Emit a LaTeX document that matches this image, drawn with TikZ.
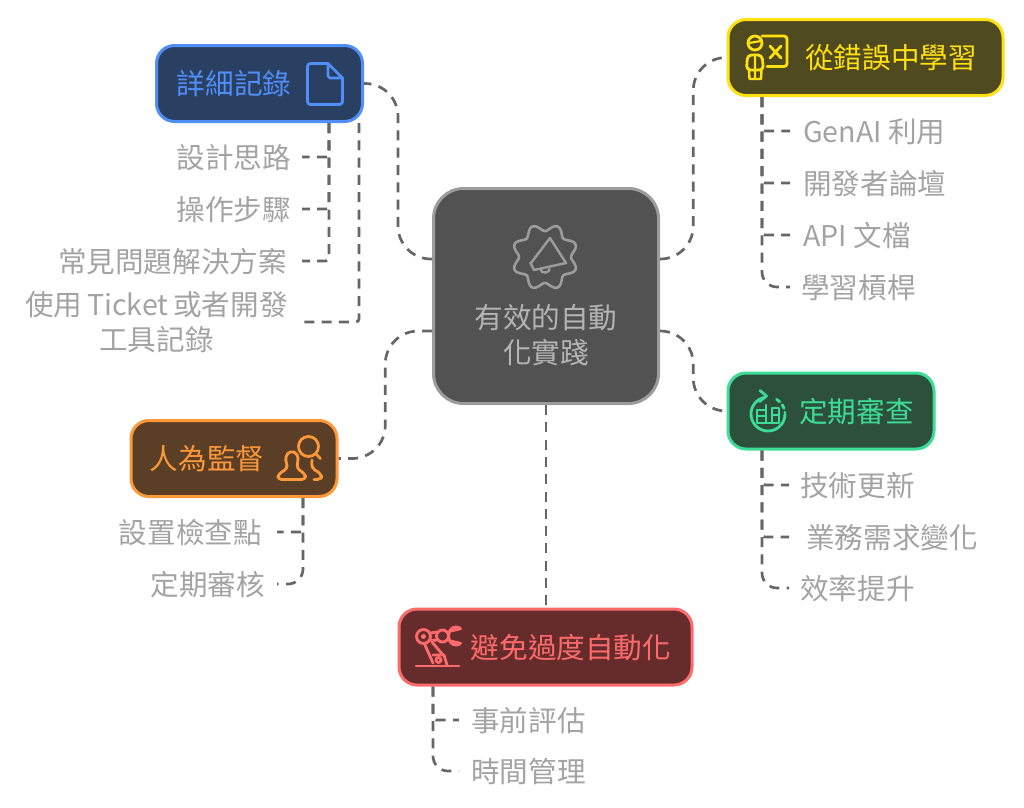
\documentclass[tikz,border=0pt]{standalone}
\usepackage{fontspec}
\setmainfont{Noto Sans CJK TC}
\usetikzlibrary{arrows.meta,positioning,calc}

\definecolor{linkgray}{HTML}{666666}
\definecolor{leafgray}{HTML}{A3A3A3}
\definecolor{hubfill}{HTML}{525252}
\definecolor{hubedge}{HTML}{9C9C9C}
\definecolor{hubtext}{HTML}{B4B4B4}
\definecolor{bluefill}{HTML}{2A4063}
\definecolor{blueedge}{HTML}{4F8FF7}
\definecolor{yellowfill}{HTML}{4F4A20}
\definecolor{yellowedge}{HTML}{FFE011}
\definecolor{greenfill}{HTML}{2C503C}
\definecolor{greenedge}{HTML}{3DDC97}
\definecolor{orangefill}{HTML}{5A3F26}
\definecolor{orangeedge}{HTML}{FF9838}
\definecolor{redfill}{HTML}{662C2C}
\definecolor{rededge}{HTML}{FF6B6B}

\tikzset{
    txtfont/.style={font=\fontsize{28.6}{34.5}\selectfont},
    txt/.style={txtfont, text height=27pt, text depth=5pt},
    topicbox/.style={txt, draw, line width=3pt, rounded corners=18pt, minimum height=76pt, inner sep=0pt},
    leaf/.style={txt, text=leafgray, inner ysep=0pt},
    twolines/.style={txtfont, text=leafgray, inner ysep=0pt, align=center},
    link/.style={linkgray, line width=2.7pt, dash pattern=on 10pt off 7.3pt},
    trunk/.style={link, rounded corners=3pt},
    trunkend/.style={link, rounded corners=15pt},
    hublink/.style={link, rounded corners=33pt},
    icon/.style={line width=2.8pt, line join=round, line cap=round}
}

\begin{document}
\begin{tikzpicture}[x=1pt,y=-1pt]
    \useasboundingbox (0,0) rectangle (1024,807);

    % Centre
    \node[draw=hubedge, fill=hubfill, text=hubtext, line width=3pt, rounded corners=30pt,
        minimum width=225pt, minimum height=215pt, inner sep=0pt, align=center, txtfont] (hub) at (546,296)
        {\rule{0pt}{70pt}\\[-2pt]有效的自動\\化實踐};
    \coordinate (hubwesttop) at ([yshift=37pt]hub.west);
    \coordinate (hubwestlow) at ([yshift=-35pt]hub.west);
    \coordinate (hubeasttop) at ([yshift=37pt]hub.east);
    \coordinate (hubeastlow) at ([yshift=-35pt]hub.east);

    % Topics
    \node[topicbox, draw=blueedge, fill=bluefill, text=blueedge, minimum width=206pt] (detail) at (259.5,83.5) {詳細記錄\hspace*{51pt}};
    \node[topicbox, draw=yellowedge, fill=yellowfill, text=yellowedge, minimum width=275pt] (mistake) at (865.5,57.5) {\hspace*{51pt}從錯誤中學習};
    \node[topicbox, draw=greenedge, fill=greenfill, text=greenedge, minimum width=206pt] (review) at (831,411) {\hspace*{51pt}定期審查};
    \node[topicbox, draw=orangeedge, fill=orangefill, text=orangeedge, minimum width=206pt] (human) at (234,458.5) {人為監督\hspace*{54pt}};
    \node[topicbox, draw=rededge, fill=redfill, text=rededge, minimum width=293pt] (avoid) at (545.5,647) {\hspace*{51pt}避免過度自動化};

    % Leaves of detail
    \node[leaf, anchor=east, inner xsep=11pt] (design) at (302,157) {設計思路};
    \node[leaf, anchor=east, inner xsep=11pt] (steps) at (302,209) {操作步驟};
    \node[leaf, anchor=east, inner xsep=15pt] (faq) at (302,261) {常見問題解決方案};
    \node[twolines, anchor=east, inner xsep=14pt] (ticket) at (302,322) {使用\hspace{-1.5pt} Ticket\hspace{-1.5pt} 或者開發\\工具記錄};

    % Leaves of mistake
    \node[leaf, anchor=west, inner xsep=13pt] (genai) at (790,131) {GenAI 利用};
    \node[leaf, anchor=west, inner xsep=13pt] (forum) at (790,183) {開發者論壇};
    \node[leaf, anchor=west, inner xsep=13pt] (apidoc) at (790,235) {API 文檔};
    \node[leaf, anchor=west, inner xsep=11pt] (lever) at (790,287) {學習槓桿};

    % Leaves of review
    \node[leaf, anchor=west, inner xsep=11pt] (tech) at (789,485) {技術更新};
    \node[leaf, anchor=west, inner xsep=17pt] (needs) at (789,537) {業務需求變化};
    \node[leaf, anchor=west, inner xsep=11pt] (speed) at (789,588) {效率提升};

    % Leaves of human
    \node[leaf, anchor=east, inner xsep=15pt] (check) at (277,532) {設置檢查點};
    \node[leaf, anchor=east, inner xsep=12pt] (audit) at (277,584) {定期審核};

    % Leaves of avoid
    \node[leaf, anchor=west, inner xsep=12pt] (assess) at (459,720) {事前評估};
    \node[leaf, anchor=west, inner xsep=12pt] (timing) at (459,771) {時間管理};

    % Links from the centre
    \coordinate (detailmid) at ($(hubwesttop)!.5!(detail.east)$);
    \coordinate (humanmid) at ($(hubwestlow)!.5!(human.east)$);
    \coordinate (mistakemid) at ($(hubeasttop)!.5!(mistake.west)$);
    \coordinate (reviewmid) at ($(hubeastlow)!.5!(review.west)$);
    \draw[hublink] (hubwesttop) -- (hubwesttop -| detailmid) -- (detail.east -| detailmid) -- (detail.east);
    \draw[hublink] (hubwestlow) -- (hubwestlow -| humanmid) -- (human.east -| humanmid) -- (human.east);
    \draw[hublink] (hubeasttop) -- (hubeasttop -| mistakemid) -- (mistake.west -| mistakemid) -- (mistake.west);
    \draw[hublink] (hubeastlow) -- (hubeastlow -| reviewmid) -- (review.west -| reviewmid) -- (review.west);
    \draw[link] (hub.south) -- (hub.south |- avoid.north);

    % Links to the leaves
    \draw[trunk] ([xshift=69.5pt]detail.south) |- (design.east);
    \draw[trunk] ([xshift=69.5pt]detail.south) |- (steps.east);
    \draw[trunk] ([xshift=69.5pt]detail.south) |- (faq.east);
    \draw[trunk] ([xshift=99.5pt]detail.south) |- (ticket.east);
    \draw[trunk] ([xshift=-103.5pt]mistake.south) |- (genai.west);
    \draw[trunk] ([xshift=-103.5pt]mistake.south) |- (forum.west);
    \draw[trunk] ([xshift=-103.5pt]mistake.south) |- (apidoc.west);
    \draw[trunkend] ([xshift=-103.5pt]mistake.south) |- (lever.west);
    \draw[trunk] ([xshift=-69pt]review.south) |- (tech.west);
    \draw[trunk] ([xshift=-69pt]review.south) |- (needs.west);
    \draw[trunkend] ([xshift=-69pt]review.south) |- (speed.west);
    \draw[trunk] ([xshift=69pt]human.south) |- (check.east);
    \draw[trunkend] ([xshift=69pt]human.south) |- (audit.east);
    \draw[trunk] ([xshift=-112.5pt]avoid.south) |- (assess.west);
    \draw[trunkend] ([xshift=-112.5pt]avoid.south) |- (timing.west);

    % Icon of the centre
    \draw[hubedge, line width=2.6pt, samples=200, domain=0:360, smooth]
        plot ({545+(29.5-3.5*cos(8*\x))*cos(\x)}, {257+(29.5-3.5*cos(8*\x))*sin(\x)}) -- cycle;
    \draw[hubedge, line width=2.4pt, line join=round] (531,263) -- (550,238) -- (566,263) -- (534,270) -- (530,262);
    \draw[hubedge, line width=2.4pt] (540,268.5) arc[start angle=190, end angle=350, radius=5pt];

    % Icon of detail
    \draw[icon, blueedge, rounded corners=3pt] (328,63.5) -- (307.5,63.5) -- (307.5,104.5) -- (342.5,104.5) -- (342.5,78);
    \draw[icon, blueedge, line join=round] (328,63.5) -- (342.5,78) -- (330,78) -- (328,76) -- cycle;

    % Icon of mistake
    \draw[icon, yellowedge, rounded corners=3pt] (762,36) -- (787,36) -- (787,66.5) -- (767,66.5);
    \draw[icon, yellowedge] (770,46) -- (781,58) (781,46) -- (770,58);
    \draw[icon, yellowedge] (755,43) circle[radius=7pt];
    \draw[icon, yellowedge, line width=2.2pt] (749,43) -- (761,41);
    \draw[icon, yellowedge, rounded corners=4pt] (746.5,70) -- (747.5,55) -- (762,55) -- (763.5,70) -- cycle;
    \draw[icon, yellowedge, line width=2.4pt] (749,70) -- (749.5,79) -- (761,79) -- (761.5,70) (755,55) -- (755,79);

    % Icon of review
    \draw[icon, greenedge] (768,414) ++(100:17pt) arc[start angle=100, end angle=360, radius=17pt];
    \draw[icon, greenedge, dash pattern=on 4pt off 4pt] (768,414) ++(60:17pt) arc[start angle=60, end angle=5, radius=17pt];
    \draw[icon, greenedge] (760,390.5) -- (766.5,396) -- (759.5,401.5);
    \draw[icon, greenedge, line width=2.4pt] (757,410) -- (757,423) -- (779,423) -- (779,408) -- (772,408) -- (772,423)
        (766,423) -- (766,405) (757,410) -- (766,410) (757,416) -- (766,416) (772,415) -- (779,415);

    % Icon of human
    \draw[icon, orangeedge, rounded corners=4pt] (277.5,479.5) -- (278.5,473.5) -- (287.5,469) -- (286.5,463) -- (285,456.5)
        -- (290.5,450.5) -- (298,454) -- (298,461.5) -- (296.5,468.5) -- (305,473.5) -- (306,479.5) -- cycle;
    \draw[icon, orangeedge] (308.5,446.5) circle[radius=10pt];
    \draw[icon, orangeedge] (315.5,453.5) -- (320.5,458.5);
    \draw[icon, orangeedge, rounded corners=4pt] (312,460) -- (311.5,468) -- (321.5,474) -- (321.5,479.5) -- (314,479.5);

    % Icon of avoid
    \draw[icon, rededge] (416,666) -- (459,666);
    \draw[icon, rededge] (423.5,636.5) circle[radius=7pt];
    \draw[icon, rededge, line width=2.2pt] (423.5,636.5) circle[radius=1.5pt];
    \draw[icon, rededge] (442.5,636) circle[radius=6pt];
    \draw[icon, rededge] (430,633) -- (436.5,632) (431,640.5) -- (437,640);
    \draw[icon, rededge] (425,645) -- (433,663) (432,642) -- (443,655);
    \draw[icon, rededge] (433,655) -- (444,655) -- (447,665);
    \draw[icon, rededge] (438.5,660) circle[radius=2.5pt];
    \draw[icon, rededge] (448.5,636) -- (449,634) arc[start angle=180, end angle=50, radius=7pt] -- (451,631) ;
    \draw[icon, rededge] (448.5,636) -- (449,638) arc[start angle=180, end angle=310, radius=7pt] -- (451,641);
\end{tikzpicture}
\end{document}
